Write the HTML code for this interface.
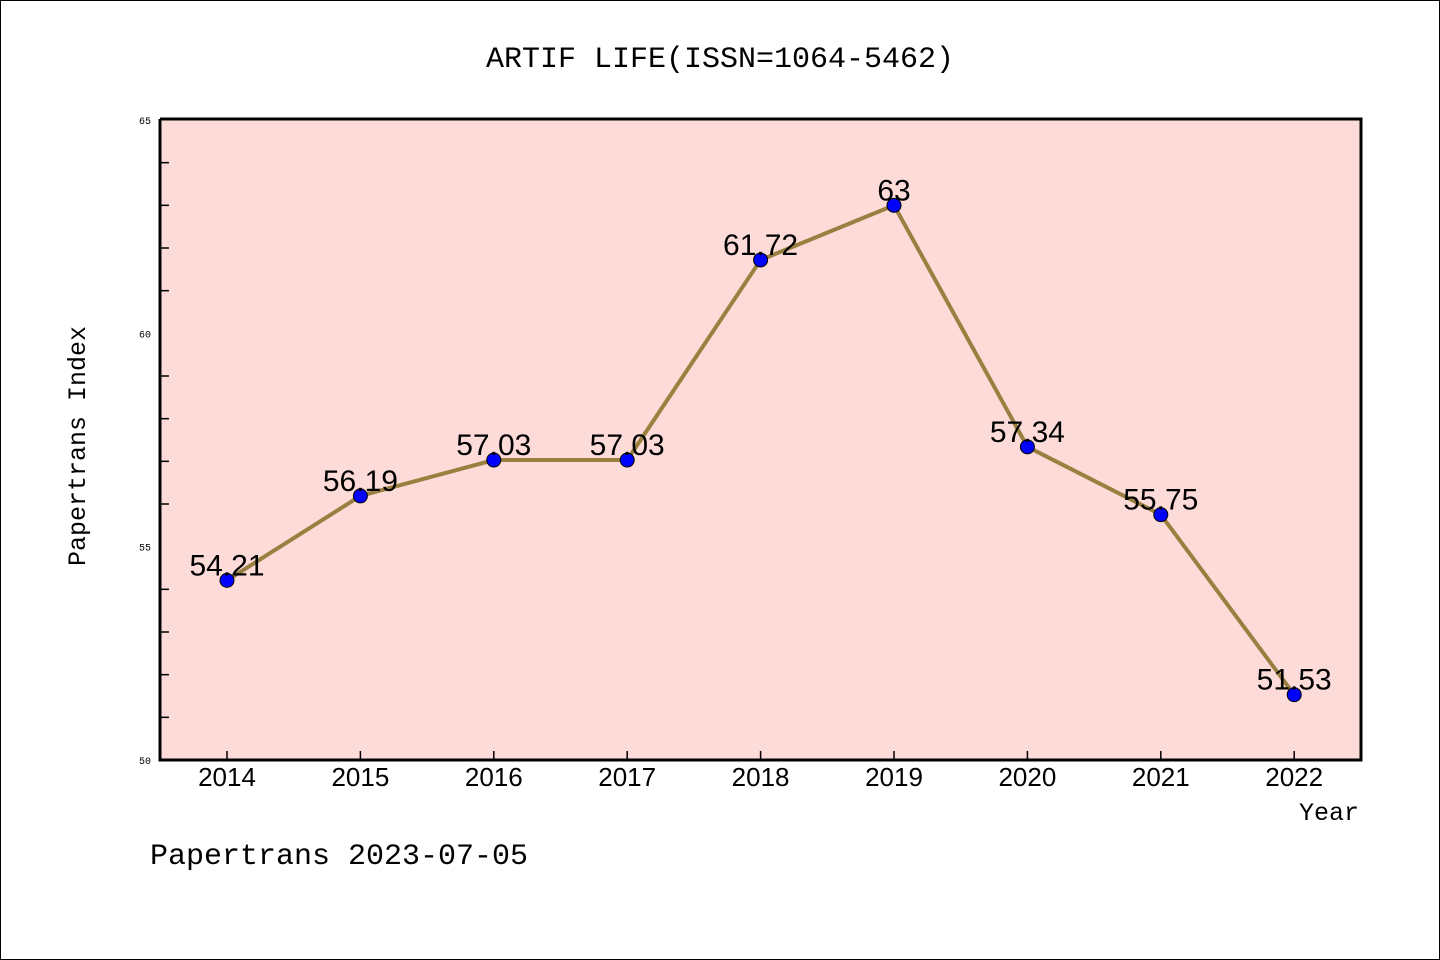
<!DOCTYPE html>
<html><head><meta charset="utf-8"><style>
body{margin:0;background:#fff}
svg{display:block;font-family:"Liberation Mono","DejaVu Sans Mono",monospace}
</style></head><body>
<svg id="c" width="1440" height="960">
<rect x="0.5" y="0.5" width="1439" height="959" fill="#fff" stroke="#000"/>
<text x="720" y="67" text-anchor="middle" font-size="30">ARTIF LIFE(ISSN=1064-5462)</text>
<rect x="160" y="120" width="1201" height="640" fill="#fddbd8"/>
<g id="axes"></g>
<polyline id="line" fill="none" stroke="#9a8040" stroke-width="4"/>
<g id="marks"></g>
<path d="M160,119 V760 H1361 V119 H160" fill="none" stroke="#000" stroke-width="3"/>
<text transform="translate(85,446) rotate(-90)" text-anchor="middle" font-size="25">Papertrans Index</text>
<text x="1359" y="820" text-anchor="end" font-size="25">Year</text>
<text x="150" y="864" font-size="30">Papertrans 2023-07-05</text>
</svg>
<script>
const years=["2014","2015","2016","2017","2018","2019","2020","2021","2022"];
const values=[54.21,56.19,57.03,57.03,61.72,63,57.34,55.75,51.53];
const valueLabels=["54.21","56.19","57.03","57.03","61.72","63","57.34","55.75","51.53"];
const yTicks=[50,55,60,65];
const NS="http://www.w3.org/2000/svg";
const x=i=>227+i*133.4;
const y=v=>760-(v-50)*(640/15);
function mk(tag,attrs,parent){const e=document.createElementNS(NS,tag);for(const k in attrs)e.setAttribute(k,attrs[k]);parent.appendChild(e);return e;}
const axes=document.getElementById('axes');
for(let v=51;v<65;v++){if(v%5===0)continue;
const t=mk('line',{x1:160,x2:169,y1:y(v),y2:y(v),stroke:'#000','stroke-width':1.5},axes);

}
yTicks.forEach(v=>{const t=mk('text',{x:151,y:y(v)+4,'text-anchor':'end','font-size':10},axes);t.textContent=v;

});
years.forEach((yr,i)=>{const l=mk('line',{x1:x(i),x2:x(i),y1:751,y2:760,stroke:'#000','stroke-width':1.5},axes);


const t=mk('text',{x:x(i),y:786,'text-anchor':'middle','font-size':26,'font-family':'"Liberation Sans",sans-serif'},axes);t.textContent=yr;

});
document.getElementById('line').setAttribute('points',values.map((v,i)=>x(i)+','+y(v)).join(' '));
const marks=document.getElementById('marks');
values.forEach((v,i)=>{const c=mk('circle',{cx:x(i),cy:y(v),r:7,fill:'#0000ff',stroke:'#000','stroke-width':1},marks);


const t=mk('text',{x:x(i),y:y(v)-5,'text-anchor':'middle','font-size':30,'font-family':'"Liberation Sans",sans-serif'},marks);t.textContent=valueLabels[i];

});
</script>
</body></html>
